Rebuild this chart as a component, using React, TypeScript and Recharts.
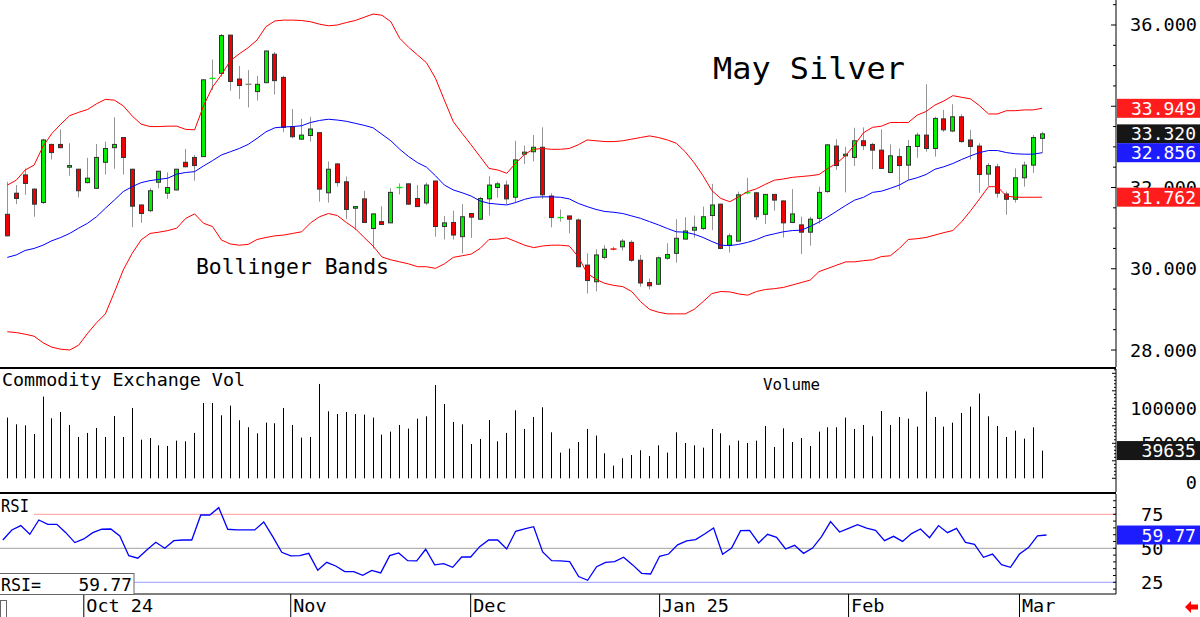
import React from "react";
import { ComposedChart, Bar, Line, XAxis, YAxis, ReferenceLine } from "recharts";

const MONO = '"DejaVu Sans Mono", "Liberation Mono", monospace';

// daily May silver, Sep 18 2024 .. Mar 6 2025
const OPEN = [
  31.34, 31.86, 32.31, 31.96, 31.63, 33.06, 33.06, 32.5, 32.45, 32.12,
  31.98, 32.62, 32.98, 33.23, 32.45, 31.57, 31.43, 32.13, 31.86, 31.94,
  32.62, 32.74, 32.76, 34.67, 34.81, 35.75, 34.67, 34.54, 34.36, 34.58,
  35.28, 34.71, 33.5, 33.19, 33.28, 33.35, 31.87, 32.58, 32.14, 31.49,
  31.72, 30.99, 31.16, 31.13, 31.99, 32.09, 31.73, 31.62, 32.16, 31.04,
  31.14, 30.79, 31.36, 31.22, 31.72, 32.0, 32.06, 31.76, 32.82, 32.88,
  32.99, 31.79, 31.25, 31.3, 31.2, 30.09, 29.68, 30.28, 30.5, 30.54,
  30.65, 30.21, 29.66, 29.62, 30.26, 30.38, 30.73, 30.95, 30.99, 31.31,
  31.59, 30.58, 30.68, 31.86, 31.87, 31.34, 31.83, 31.67, 31.14, 31.08,
  30.9, 31.24, 31.9, 33.02, 32.78, 32.74, 33.15, 33.06, 32.92, 32.37,
  32.76, 32.55, 33.01, 33.29, 32.96, 33.69, 33.39, 33.74, 33.17, 33.02,
  32.33, 32.51, 31.84, 31.71, 32.24, 32.55, 33.21,
];
const HIGH = [
  32.14, 32.06, 32.47, 31.98, 33.2, 33.08, 33.43, 33.09, 32.46, 32.73,
  33.07, 33.13, 33.73, 33.24, 32.46, 31.58, 31.98, 32.41, 32.37, 32.46,
  32.95, 32.8, 34.66, 35.15, 35.78, 35.76, 34.99, 34.89, 34.75, 35.37,
  35.33, 34.75, 33.93, 33.69, 33.74, 33.36, 32.64, 32.6, 32.27, 31.54,
  31.92, 31.36, 31.54, 31.98, 32.1, 32.1, 32.06, 32.12, 32.17, 31.3,
  31.43, 31.59, 31.37, 31.77, 32.28, 32.14, 32.17, 33.15, 33.03, 33.29,
  33.48, 31.86, 31.46, 31.31, 31.24, 30.38, 30.48, 30.58, 30.54, 30.73,
  30.7, 30.34, 29.76, 30.3, 30.63, 31.22, 31.27, 31.31, 31.53, 32.09,
  31.6, 30.87, 31.9, 32.24, 31.88, 31.84, 31.84, 31.68, 31.96, 31.28,
  31.28, 32.02, 33.07, 33.19, 33.0, 33.47, 33.48, 33.1, 33.43, 33.06,
  32.96, 33.17, 33.35, 34.54, 33.74, 33.91, 34.05, 33.8, 33.42, 33.09,
  32.6, 32.58, 31.9, 32.47, 32.64, 33.29, 33.37,
];
const LOW = [
  30.8, 31.59, 31.82, 31.28, 31.6, 32.69, 32.97, 32.29, 31.76, 32.1,
  31.97, 32.32, 32.46, 32.32, 31.02, 31.13, 31.39, 31.98, 31.72, 31.93,
  32.5, 32.17, 32.75, 34.4, 34.73, 34.38, 34.18, 33.97, 34.14, 34.57,
  34.29, 33.36, 33.21, 33.17, 33.13, 31.65, 31.63, 32.02, 31.22, 30.95,
  31.13, 30.5, 31.08, 31.12, 31.83, 31.58, 31.52, 31.57, 30.79, 30.72,
  30.72, 30.38, 30.76, 31.21, 31.31, 31.75, 31.59, 31.62, 32.58, 32.64,
  31.72, 31.02, 31.16, 30.87, 30.04, 29.39, 29.44, 30.23, 30.45, 30.45,
  30.17, 29.56, 29.49, 29.61, 30.22, 30.15, 30.72, 30.77, 30.95, 30.95,
  30.48, 30.4, 30.67, 31.83, 31.2, 31.1, 31.43, 30.77, 31.13, 30.36,
  30.57, 31.11, 31.87, 32.43, 31.88, 32.53, 32.92, 32.45, 32.45, 32.35,
  31.94, 32.18, 32.73, 32.88, 32.76, 33.37, 33.36, 33.1, 32.69, 31.87,
  32.04, 31.75, 31.33, 31.63, 32.02, 32.36, 32.84,
];
const CLOSE = [
  30.81, 31.73, 32.1, 31.59, 33.17, 32.86, 32.98, 32.54, 31.92, 32.23,
  32.74, 32.96, 33.06, 32.74, 31.54, 31.36, 31.92, 32.4, 32.0, 32.45,
  32.51, 32.54, 34.65, 34.7, 35.74, 34.61, 34.51, 34.54, 34.54, 35.36,
  34.63, 33.48, 33.25, 33.29, 33.44, 31.96, 32.45, 32.12, 31.46, 31.53,
  31.14, 31.35, 31.09, 31.88, 32.01, 31.59, 31.53, 32.06, 31.04, 31.13,
  30.83, 31.28, 31.27, 31.73, 32.06, 32.09, 31.72, 32.68, 32.87, 32.99,
  31.82, 31.26, 31.27, 31.22, 30.05, 29.71, 30.34, 30.48, 30.47, 30.68,
  30.21, 29.65, 29.58, 30.27, 30.35, 30.75, 30.93, 31.02, 31.28, 31.57,
  30.5, 30.81, 31.82, 31.88, 31.28, 31.83, 31.69, 31.13, 31.35, 30.9,
  31.22, 31.88, 33.05, 32.54, 32.82, 33.15, 33.03, 32.92, 32.47, 32.78,
  32.54, 33.01, 33.29, 32.96, 33.7, 33.42, 33.74, 33.13, 33.01, 32.32,
  32.54, 31.86, 31.71, 32.24, 32.55, 33.23, 33.32,
];
const UPPER = [
  32.06, 32.18, 32.43, 32.55, 33.01, 33.33, 33.56, 33.77, 33.85, 33.92,
  34.06, 34.17, 34.15, 34.01, 33.76, 33.56, 33.5, 33.5, 33.51, 33.51,
  33.43, 33.42, 34.01, 34.47, 34.77, 35.12, 35.29, 35.44, 35.63, 35.96,
  36.1, 36.12, 36.12, 36.11, 36.08, 36.02, 35.98, 36.0, 36.06, 36.11,
  36.19, 36.27, 36.24, 36.08, 35.67, 35.45, 35.26, 35.07, 34.69, 34.15,
  33.62, 33.33, 33.05, 32.76, 32.47, 32.43, 32.35, 32.6, 32.82, 32.94,
  32.96, 32.94, 32.94, 32.96, 33.05, 33.17, 33.15, 33.13, 33.13, 33.15,
  33.19, 33.23, 33.27, 33.23, 33.17, 33.09, 32.88, 32.61, 32.29, 31.92,
  31.73, 31.65, 31.77, 31.9, 31.97, 32.08, 32.18, 32.21, 32.25, 32.27,
  32.29, 32.32, 32.47, 32.6, 32.79, 33.05, 33.35, 33.48, 33.51, 33.6,
  33.6, 33.6, 33.78, 33.87, 34.03, 34.13, 34.26, 34.22, 34.18, 34.01,
  33.81, 33.81, 33.89, 33.89, 33.91, 33.91, 33.949,
];
const MIDDLE = [
  30.28, 30.34, 30.45, 30.5, 30.58, 30.69, 30.77, 30.87, 31.0, 31.12,
  31.28, 31.49, 31.69, 31.9, 32.02, 32.12, 32.17, 32.2, 32.23, 32.33,
  32.37, 32.39, 32.53, 32.66, 32.8, 32.88, 32.96, 33.06, 33.21, 33.37,
  33.47, 33.49, 33.5, 33.52, 33.6, 33.65, 33.68, 33.66, 33.63, 33.58,
  33.53, 33.47, 33.31, 33.15, 32.94, 32.76, 32.61, 32.5, 32.29, 32.06,
  31.94, 31.87, 31.79, 31.67, 31.61, 31.59, 31.57, 31.63, 31.71, 31.76,
  31.77, 31.77, 31.76, 31.72, 31.61, 31.53, 31.46, 31.41, 31.39, 31.36,
  31.3, 31.24, 31.16, 31.08, 30.99, 30.91, 30.9, 30.85, 30.77, 30.67,
  30.58, 30.57, 30.6, 30.65, 30.72, 30.81, 30.86, 30.91, 30.94, 30.95,
  31.04, 31.15, 31.28, 31.42, 31.56, 31.69, 31.76, 31.88, 31.91, 31.98,
  32.06, 32.18, 32.24, 32.32, 32.45, 32.51, 32.59, 32.69, 32.78, 32.86,
  32.91, 32.91, 32.86, 32.83, 32.82, 32.82, 32.856,
];
const LOWER = [
  28.45, 28.43, 28.39, 28.34, 28.18, 28.07, 28.02, 28.0, 28.12, 28.41,
  28.67, 28.89, 29.42, 29.97, 30.38, 30.71, 30.87, 30.9, 30.94, 31.0,
  31.24, 31.35, 31.12, 31.04, 30.71, 30.61, 30.58, 30.6, 30.72, 30.77,
  30.81, 30.83, 30.87, 30.91, 31.13, 31.28, 31.36, 31.31, 31.14, 30.99,
  30.77, 30.56, 30.29, 30.22, 30.17, 30.12, 30.05, 30.05, 30.01, 30.12,
  30.28, 30.32, 30.36, 30.5, 30.72, 30.73, 30.76, 30.67, 30.58, 30.52,
  30.56, 30.58, 30.58, 30.56, 30.3, 29.89, 29.74, 29.64, 29.59, 29.56,
  29.44, 29.19, 29.0, 28.93, 28.89, 28.89, 28.89, 29.0, 29.19, 29.39,
  29.44, 29.43, 29.38, 29.35, 29.44, 29.49, 29.51, 29.54, 29.6, 29.66,
  29.72, 29.93, 30.01, 30.09, 30.17, 30.17, 30.2, 30.22, 30.3, 30.32,
  30.5, 30.72, 30.74, 30.77, 30.83, 30.89, 30.94, 31.16, 31.43, 31.72,
  32.02, 32.02, 31.79, 31.76, 31.76, 31.76, 31.762,
];
const VOLUME = [
  86700, 77100, 75700, 63300, 116700, 85700, 94800, 76200, 59000, 64800,
  71900, 59000, 89000, 59000, 100500, 55200, 57600, 47100, 46200, 53800,
  52900, 64800, 107600, 107600, 90000, 103800, 82900, 72900, 64300, 79500,
  78600, 100500, 76200, 58100, 59000, 134800, 95700, 91900, 94800, 91900,
  91000, 86700, 62400, 66700, 76200, 71000, 85200, 88600, 133300, 106200,
  80500, 77100, 49000, 56200, 83300, 52900, 64800, 97100, 70500, 87600,
  101400, 65700, 36700, 42400, 51900, 70500, 61000, 35700, 18100, 28600,
  33300, 40000, 31900, 47100, 36700, 65700, 50500, 47100, 43800, 70500,
  64300, 47100, 53800, 50500, 53800, 74800, 44800, 71400, 51900, 57600,
  46200, 66700, 72900, 72900, 86700, 70500, 76200, 60000, 96200, 76200,
  87600, 85200, 73800, 123800, 87600, 73800, 79500, 93300, 102400, 121000,
  88600, 74800, 59000, 68100, 56700, 72900, 39635,
];
const RSI = [
  56.1, 63.5, 66.7, 60.3, 70.8, 67.6, 67.6, 61.5, 54.2, 56.9,
  61.5, 64.0, 64.2, 59.1, 44.6, 42.7, 48.8, 54.4, 50.0, 55.6,
  56.1, 56.1, 74.5, 74.5, 79.9, 64.0, 63.5, 63.5, 63.5, 69.4,
  58.6, 47.1, 44.4, 44.6, 46.3, 33.8, 39.7, 37.0, 32.9, 32.9,
  30.2, 33.8, 31.9, 44.6, 46.6, 40.9, 40.7, 49.3, 37.8, 38.7,
  36.0, 43.6, 43.6, 51.2, 56.1, 56.1, 49.5, 62.5, 64.2, 65.9,
  47.3, 40.9, 40.7, 40.2, 29.2, 26.5, 36.5, 39.7, 40.2, 43.4,
  37.8, 31.6, 31.1, 44.1, 45.8, 52.5, 55.4, 56.4, 60.5, 64.9,
  45.6, 50.2, 63.0, 63.2, 53.9, 60.3, 58.1, 49.5, 52.2, 46.3,
  50.2, 58.6, 69.6, 62.0, 64.7, 67.4, 64.9, 63.2, 55.6, 58.8,
  55.1, 60.8, 64.2, 57.8, 66.7, 61.5, 64.7, 54.4, 52.9, 43.4,
  45.8, 38.0, 36.0, 45.8, 50.5, 59.1, 59.77,
];

const MONTH_AT = [9, 32, 52, 73, 94, 113];
const MONTH_LABELS = ["Oct 24", "Nov", "Dec", "Jan 25", "Feb", "Mar"];
const PRICE_TICKS = [28, 28.5, 29, 29.5, 30, 30.5, 31, 31.5, 32, 32.5, 33, 33.5, 34, 34.5, 35, 35.5, 36, 36.5];
const PRICE_LABELS = [28, 30, 32, 34, 36];
const PRICE_LAST = [33.949, 33.32, 32.856, 31.762];
const PRICE_LAST_BG = ["#ff1c1c", "#161616", "#1c1cff", "#ff1c1c"];
const VOL_TICKS = [
  0, 5000, 10000, 15000, 20000, 25000, 30000, 35000, 40000, 45000, 50000, 55000, 60000, 65000,
  70000, 75000, 80000, 85000, 90000, 95000, 100000, 105000, 110000, 115000, 120000, 125000,
  130000, 135000, 140000, 145000, 150000, 155000,
];
const VOL_LABELS = [0, 50000, 100000];
const VOL_LAST = [39635];
const RSI_TICKS = [20, 25, 30, 35, 40, 45, 50, 55, 60, 65, 70, 75, 80, 85];
const RSI_LABELS = [25, 50, 75];
const RSI_LAST = [59.77];

const rows = OPEN.map((o, i) => ({
  i, o, h: HIGH[i], l: LOW[i], c: CLOSE[i],
  up: UPPER[i], mid: MIDDLE[i], lo: LOWER[i],
  v: VOLUME[i], rsi: RSI[i],
}));

const AXIS_X = 1116;
const X_PAD = { left: 2.84, right: 69.52 };
const GREEN = "#00f000";
const RED = "#f00000";

function Candle(props: any) {
  const { x, width, y, height, payload } = props;
  if (y == null || height == null || !payload) return null;
  const { o, h, l, c } = payload;
  const yTop = Math.min(y, y + height);
  const span = Math.abs(height);
  const py = (v: number) => (h > l ? yTop + ((h - v) / (h - l)) * span : yTop);
  const cx = Math.floor(x + width / 2) + 0.5;
  const bTop = py(Math.max(o, c));
  const bBot = py(Math.min(o, c));
  const fill = c > o ? GREEN : c < o ? RED : "#888";
  return (
    <g>
      <line x1={cx} x2={cx} y1={yTop} y2={yTop + span} stroke="#959595" strokeWidth={1} />
      {bBot - bTop < 1.6 ? (
        <line x1={cx - 3} x2={cx + 3} y1={(bTop + bBot) / 2} y2={(bTop + bBot) / 2} stroke={fill} strokeWidth={1.4} />
      ) : (
        <rect x={cx - 2} y={bTop} width={4} height={bBot - bTop} fill={fill} stroke="#333" strokeWidth={1} />
      )}
    </g>
  );
}

function VolStick(props: any) {
  const { x, width, y, height } = props;
  if (y == null || height == null) return null;
  const cx = Math.floor(x + width / 2);
  return <rect x={cx} y={Math.min(y, y + height)} width={1} height={Math.abs(height)} fill="#000" />;
}

// last-value box, drawn as a tick so that it sits above the axis labels
function LastBox({ y, text, bg, len }: any) {
  return (
    <g>
      <rect x={1117} y={y - 9.5} width={83} height={19} fill={bg} />
      <text x={1196} y={y + 6.5} textAnchor="end" fill="#fff" fontSize={18.5} fontFamily={MONO} textLength={len} lengthAdjust="spacingAndGlyphs">
        {text}
      </text>
    </g>
  );
}

function PriceTick(props: any) {
  const { y, payload } = props;
  const v = payload.value;
  const k = PRICE_LAST.indexOf(v);
  if (k >= 0) return <LastBox y={y} text={v.toFixed(3)} bg={PRICE_LAST_BG[k]} len={65} />;
  const major = PRICE_LABELS.includes(v);
  return (
    <g>
      <line x1={AXIS_X - (major ? 5 : 3)} x2={AXIS_X} y1={y} y2={y} stroke="#000" />
      {major && (
        <text x={1130} y={y + 6.5} fontSize={18.5} fontFamily={MONO} fill="#000" textLength={67} lengthAdjust="spacingAndGlyphs">
          {v.toFixed(3)}
        </text>
      )}
    </g>
  );
}

function VolTick(props: any) {
  const { y, payload } = props;
  const v = payload.value;
  if (VOL_LAST.includes(v)) return <LastBox y={y} text={String(v)} bg="#161616" len={54.5} />;
  const major = VOL_LABELS.includes(v);
  return (
    <g>
      <line x1={AXIS_X - (v % 25000 === 0 ? 4 : 2)} x2={AXIS_X} y1={y} y2={y} stroke="#000" />
      {major && (
        <text x={1197} y={y + (v === 0 ? 11 : 6.5)} fontSize={18.5} fontFamily={MONO} fill="#000" textAnchor="end">
          {String(v)}
        </text>
      )}
    </g>
  );
}

function RsiTick(props: any) {
  const { y, payload } = props;
  const v = payload.value;
  if (RSI_LAST.includes(v)) return <LastBox y={y} text={v.toFixed(2)} bg="#1c1cff" len={54.5} />;
  const major = RSI_LABELS.includes(v);
  return (
    <g>
      <line x1={AXIS_X - 3} x2={AXIS_X} y1={y} y2={y} stroke="#000" />
      {major && (
        <text x={1141} y={y + 6.5} fontSize={18.5} fontFamily={MONO} fill="#000">
          {String(v)}
        </text>
      )}
    </g>
  );
}

function MonthTick(props: any) {
  const { x, y, payload } = props;
  const k = MONTH_AT.indexOf(payload.value);
  if (k < 0) return null;
  return (
    <g>
      <line x1={x} x2={x} y1={y} y2={y + 23} stroke="#000" />
      <text x={x + 2.5} y={y + 18} fontSize={18.5} fontFamily={MONO} fill="#000">
        {MONTH_LABELS[k]}
      </text>
    </g>
  );
}

function PricePanel() {
  return (
    <ComposedChart width={1200} height={367} data={rows} margin={{ top: 0, right: 0, bottom: 0, left: 0 }} barCategoryGap={0}>
      <XAxis dataKey="i" hide padding={X_PAD} />
      <YAxis
        type="number" orientation="right" width={84} domain={[27.582, 36.615]} allowDataOverflow
        ticks={[...PRICE_TICKS, ...PRICE_LAST]} interval={0} tick={<PriceTick />} tickLine={false} tickSize={0} tickMargin={0}
        axisLine={{ stroke: "#000" }}
      />
      <Line dataKey="up" stroke="#ff0000" strokeWidth={1} dot={false} activeDot={false} isAnimationActive={false} />
      <Line dataKey="lo" stroke="#ff0000" strokeWidth={1} dot={false} activeDot={false} isAnimationActive={false} />
      <Line dataKey="mid" stroke="#0000ff" strokeWidth={1} dot={false} activeDot={false} isAnimationActive={false} />
      <Bar dataKey={(d: any) => [d.l, d.h]} shape={<Candle />} activeBar={false} isAnimationActive={false} />
    </ComposedChart>
  );
}

function VolumePanel() {
  return (
    <ComposedChart width={1200} height={123} data={rows} margin={{ top: 0, right: 0, bottom: 0, left: 0 }} barCategoryGap={0}>
      <XAxis dataKey="i" hide padding={X_PAD} />
      <YAxis
        type="number" orientation="right" width={84} domain={[-19571, 156143]} allowDataOverflow
        ticks={[...VOL_TICKS, ...VOL_LAST]} interval={0} tick={<VolTick />} tickLine={false} tickSize={0} tickMargin={0}
        axisLine={{ stroke: "#000" }}
      />
      <Bar dataKey="v" shape={<VolStick />} activeBar={false} isAnimationActive={false} />
    </ComposedChart>
  );
}

function RsiPanel() {
  return (
    <ComposedChart width={1200} height={123} data={rows} margin={{ top: 0, right: 0, bottom: 0, left: 0 }} barCategoryGap={0}>
      <XAxis
        dataKey="i" padding={X_PAD} height={23} interval={0} tick={<MonthTick />}
        tickLine={false} tickSize={0} tickMargin={0} axisLine={{ stroke: "#000" }}
      />
      <YAxis
        type="number" orientation="right" width={84} domain={[16.4, 89.93]} allowDataOverflow
        ticks={[...RSI_TICKS, ...RSI_LAST]} interval={0} tick={<RsiTick />} tickLine={false} tickSize={0} tickMargin={0}
        axisLine={{ stroke: "#000" }}
      />
      <ReferenceLine y={75} stroke="#ff9a9a" strokeWidth={1} />
      <ReferenceLine y={50} stroke="#a0a0a0" strokeWidth={1} />
      <ReferenceLine y={25} stroke="#9a9aff" strokeWidth={1} />
      <Line dataKey="rsi" stroke="#0000ff" strokeWidth={1.3} dot={false} activeDot={false} isAnimationActive={false} />
    </ComposedChart>
  );
}

export default function App() {
  return (
    <div style={{ position: "absolute", left: 0, top: 0, width: 1200, height: 617, background: "#fff", overflow: "hidden" }}>
      <div style={{ position: "absolute", left: 0, top: 0 }}><PricePanel /></div>
      <div style={{ position: "absolute", left: 0, top: 369 }}><VolumePanel /></div>
      <div style={{ position: "absolute", left: 0, top: 494 }}><RsiPanel /></div>
      <svg width={1200} height={617} style={{ position: "absolute", left: 0, top: 0, pointerEvents: "none" }}>
        <rect x={0} y={367} width={AXIS_X} height={2} fill="#000" />
        <rect x={0} y={492} width={AXIS_X} height={2} fill="#000" />
        <text x={713} y={79} fontSize={31} fontFamily={MONO} fill="#000" textLength={192} lengthAdjust="spacingAndGlyphs">May Silver</text>
        <text x={196} y={274} fontSize={21.5} fontFamily={MONO} fill="#000" textLength={193} lengthAdjust="spacingAndGlyphs">Bollinger Bands</text>
        <text x={2} y={386} fontSize={17} fontFamily={MONO} fill="#000" textLength={243} lengthAdjust="spacingAndGlyphs">Commodity Exchange Vol</text>
        <text x={763} y={390} fontSize={16} fontFamily={MONO} fill="#000" textLength={57} lengthAdjust="spacingAndGlyphs">Volume</text>
        <rect x={0} y={495} width={34} height={22} fill="#fff" />
        <text x={1} y={512} fontSize={18} fontFamily={MONO} fill="#000" textLength={28} lengthAdjust="spacingAndGlyphs">RSI</text>
        <rect x={-1} y={573.5} width={135} height={21} fill="#fff" stroke="#666" strokeWidth={1} />
        <text x={1} y={591} fontSize={18} fontFamily={MONO} fill="#000" textLength={40} lengthAdjust="spacingAndGlyphs">RSI=</text>
        <text x={78.5} y={591} fontSize={18} fontFamily={MONO} fill="#000" textLength={53.5} lengthAdjust="spacingAndGlyphs">59.77</text>
        <rect x={0.5} y={600.5} width={6} height={20} fill="none" stroke="#666" strokeWidth={1} />
        <polygon points="1185,607 1191,601 1191,604.5 1198,604.5 1198,609.5 1191,609.5 1191,613" fill="#ff0000" />
      </svg>
    </div>
  );
}
